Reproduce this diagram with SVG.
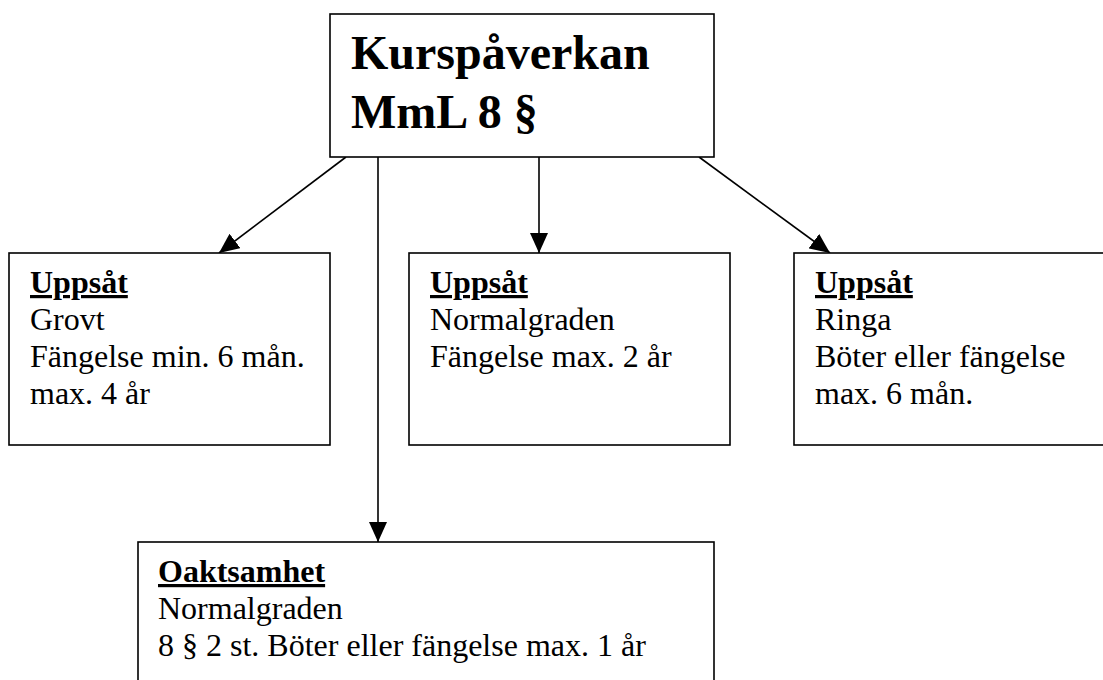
<svg xmlns="http://www.w3.org/2000/svg" width="1103" height="680" viewBox="0 0 1103 680">
<defs>
<style>
.box{fill:#fff;stroke:#000;stroke-width:1.6}
.t{font-family:"Liberation Serif","Times New Roman",serif;font-size:32px;fill:#000}
.h{font-weight:bold;text-decoration:underline;text-decoration-thickness:3px}
.title{font-family:"Liberation Serif","Times New Roman",serif;font-size:48px;font-weight:bold;fill:#000}
.c{stroke:#000;stroke-width:1.6;fill:none}
</style>
<marker id="ah" markerWidth="20" markerHeight="18" refX="20" refY="9" orient="auto" markerUnits="userSpaceOnUse">
<path d="M0,0 L20,9 L0,18 Z" fill="#000"/>
</marker>
</defs>
<rect width="1103" height="680" fill="#fff"/>
<g id="connectors">
<line class="c" x1="346" y1="157" x2="219" y2="253" marker-end="url(#ah)"/>
<line class="c" x1="378" y1="157" x2="378" y2="542" marker-end="url(#ah)"/>
<line class="c" x1="539" y1="157" x2="539" y2="253" marker-end="url(#ah)"/>
<line class="c" x1="699" y1="157" x2="830" y2="253" marker-end="url(#ah)"/>
</g>
<g id="top">
<rect class="box" x="330" y="14" width="384" height="143"/>
<text class="title" x="351" y="69">Kurspåverkan</text>
<text class="title" x="351" y="128">MmL 8 §</text>
</g>
<g id="grovt">
<rect class="box" x="9" y="253" width="321" height="192"/>
<text class="t h" x="30" y="293">Uppsåt</text>
<text class="t" x="30" y="330">Grovt</text>
<text class="t" x="30" y="367">Fängelse min. 6 mån.</text>
<text class="t" x="30" y="404">max. 4 år</text>
</g>
<g id="normal">
<rect class="box" x="409" y="253" width="321" height="192"/>
<text class="t h" x="430" y="293">Uppsåt</text>
<text class="t" x="430" y="330">Normalgraden</text>
<text class="t" x="430" y="367">Fängelse max. 2 år</text>
</g>
<g id="ringa">
<rect class="box" x="794" y="253" width="321" height="192"/>
<text class="t h" x="815" y="293">Uppsåt</text>
<text class="t" x="815" y="330">Ringa</text>
<text class="t" x="815" y="367">Böter eller fängelse</text>
<text class="t" x="815" y="404">max. 6 mån.</text>
</g>
<g id="oaktsamhet">
<rect class="box" x="138" y="542" width="576" height="150"/>
<text class="t h" x="158" y="582">Oaktsamhet</text>
<text class="t" x="158" y="619">Normalgraden</text>
<text class="t" x="158" y="656">8 § 2 st. Böter eller fängelse max. 1 år</text>
</g>
</svg>
